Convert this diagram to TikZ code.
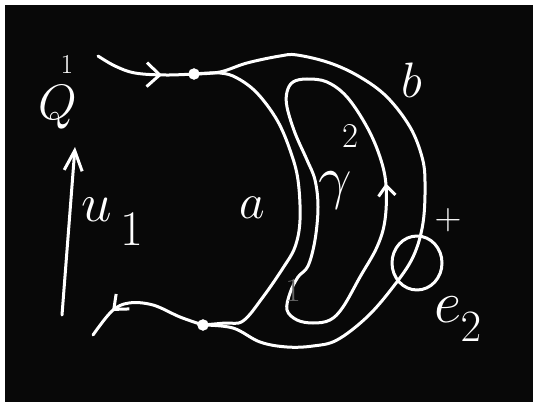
\documentclass[tikz,border=0pt]{standalone}
\usetikzlibrary{arrows.meta,decorations.markings}
\begin{document}
\begin{tikzpicture}[x=1pt,y=-1pt,
  chalk/.style={white, line width=3pt, line cap=round, line join=round},
  lbl/.style={text=white, inner sep=0pt, font=\Huge},
  dotnode/.style={circle, fill=white, draw=white, minimum size=11pt, inner sep=0pt},
  markat/.style n args={3}{postaction={decorate}, decoration={markings, mark=at position #1 with {\arrow[line width=3pt]{Straight Barb[length=#2pt,width=#3pt]}}}}]
\fill[white] (0,0) rectangle (534,406);
\useasboundingbox (0,0) rectangle (534,406);
\fill[black!97] (5,5) rectangle (533,402);
% junction dots
\node[dotnode] (top) at (194,74) {};
\node[dotnode] (bot) at (203,325) {};
\coordinate (inA) at (98,56);
\coordinate (inB) at (93,335);
\coordinate (ua) at (62,315);
\coordinate (ub) at (75,147);
% incoming / outgoing strands
\draw[chalk, markat={0.68}{13}{24}] plot[smooth, tension=0.6] coordinates {(inA) (115,66) (135,73) (165,75) (top.center)};
\draw[chalk, markat={0.76}{12}{20}] plot[smooth, tension=0.6] coordinates {(bot.center) (180,317) (153,305) (129,303) (112,311) (inB)};
% curve a
\draw[chalk] plot[smooth, tension=0.6] coordinates {(top.center) (220,73) (237,78) (257,93) (277,120) (290,150) (298,180) (300,220) (295,247) (283,268) (263,297) (243,321) (225,323) (bot.center)};
% curve b
\draw[chalk] plot[smooth, tension=0.6] coordinates {(top.center) (220,72) (247,63) (280,56) (297,55) (330,63) (360,77) (387,97) (410,127) (422,157) (425,182) (423,223) (413,257) (393,287) (367,317) (337,340) (313,346) (287,347) (260,342) (233,328) (bot.center)};
% gamma loop
\draw[chalk, markat={0.74}{10}{17}] plot[smooth cycle, tension=0.6] coordinates {(307,79) (293,82) (287,92) (287,107) (295,133) (307,160) (315,180) (318,207) (315,240) (308,266) (298,277) (290,293) (287,310) (297,320) (313,323) (330,320) (343,307) (360,277) (377,247) (385,220) (386,185) (380,157) (367,127) (347,97) (327,82)};
% small circle
\draw[chalk] (417,263) ellipse [x radius=25, y radius=27];
% arrow on the left
\draw[chalk, -{Straight Barb[length=20pt,width=18pt]}] (ua) -- (ub);
% labels
\node[lbl, scale=2.0] (Q) at (58,107) {$Q$};
\node[lbl, scale=1.1] (Qi) at (67,65) {$1$};
\node[lbl, scale=2.2] (u) at (97,210) {$u$};
\node[lbl, scale=2.0] (ui) at (132,229) {$1$};
\node[lbl, scale=2.0] (a) at (252,208) {$a$};
\node[lbl, scale=2.0] (b) at (412,80) {$b$};
\node[lbl, scale=2.4] (g) at (335,190) {$\gamma$};
\node[lbl, scale=1.4] (gi) at (350,136) {$2$};
\node[lbl, scale=1.5] (plus) at (448,220) {$+$};
\node[lbl, scale=2.4] (e) at (448,310) {$e$};
\node[lbl, scale=1.8] (ei) at (471,327) {$2$};
\node[lbl, scale=1.35, text=white!40!black] (faint) at (293,291) {$1$};
\end{tikzpicture}
\end{document}
